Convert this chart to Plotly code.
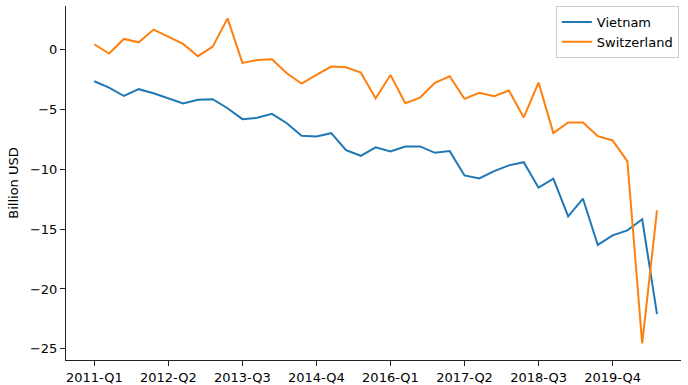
import plotly.graph_objects as go

quarters = [f"{y}-Q{q}" for y in range(2011, 2021) for q in range(1, 5)][:39]

vietnam = [-2.67, -3.2, -3.9, -3.33, -3.67, -4.08, -4.53, -4.22, -4.17, -4.92,
           -5.83, -5.72, -5.39, -6.17, -7.22, -7.28, -7.0, -8.42, -8.89, -8.19,
           -8.53, -8.11, -8.11, -8.64, -8.5, -10.53, -10.78, -10.17, -9.69, -9.42,
           -11.55, -10.8, -13.94, -12.47, -16.33, -15.53, -15.11, -14.19, -22.1]

switzerland = [0.42, -0.36, 0.86, 0.58, 1.64, 1.06, 0.45, -0.58, 0.22, 2.58,
               -1.14, -0.89, -0.83, -2.0, -2.86, -2.14, -1.44, -1.5, -1.95, -4.1,
               -2.14, -4.5, -4.03, -2.8, -2.25, -4.14, -3.64, -3.92, -3.44, -5.69,
               -2.78, -7.0, -6.11, -6.11, -7.25, -7.61, -9.36, -24.55, -13.44]

tick_labels = quarters[::5]
y_ticks = [0, -5, -10, -15, -20, -25]

font = "DejaVu Sans"

fig = go.Figure()
fig.add_trace(go.Scatter(x=quarters, y=vietnam, mode="lines", name="Vietnam",
                         line=dict(color="#1f77b4", width=2)))
fig.add_trace(go.Scatter(x=quarters, y=switzerland, mode="lines", name="Switzerland",
                         line=dict(color="#ff7f0e", width=2)))

fig.update_layout(
    width=688, height=385,
    margin=dict(l=66, r=7, t=6, b=25),
    paper_bgcolor="white", plot_bgcolor="white",
    font=dict(family=font, size=13, color="black"),
    showlegend=True,
    legend=dict(x=0.9965, xanchor="right", y=1.0, yanchor="top",
                bgcolor="rgba(255,255,255,0.8)", bordercolor="#cccccc", borderwidth=1,
                font=dict(size=13), tracegroupgap=0),
    xaxis=dict(type="category", range=[-1.91, 39.62], automargin=False,
               tickmode="array", tickvals=tick_labels, ticktext=tick_labels,
               showgrid=False, zeroline=False, showline=True, linecolor="#222222",
               linewidth=1, ticks="outside", ticklen=5, tickcolor="#222222"),
    yaxis=dict(range=[-25.93, 3.61], tickmode="array", tickvals=y_ticks, automargin=False,
               showgrid=False, zeroline=False, showline=True, linecolor="#222222",
               linewidth=1, ticks="outside", ticklen=5, tickcolor="#222222",
               title=dict(text="Billion USD", standoff=8, font=dict(size=13))),
)

fig.write_html("out.html", config={"displayModeBar": False},
               post_script="document.body.style.margin='0';document.body.style.overflow='hidden';")
